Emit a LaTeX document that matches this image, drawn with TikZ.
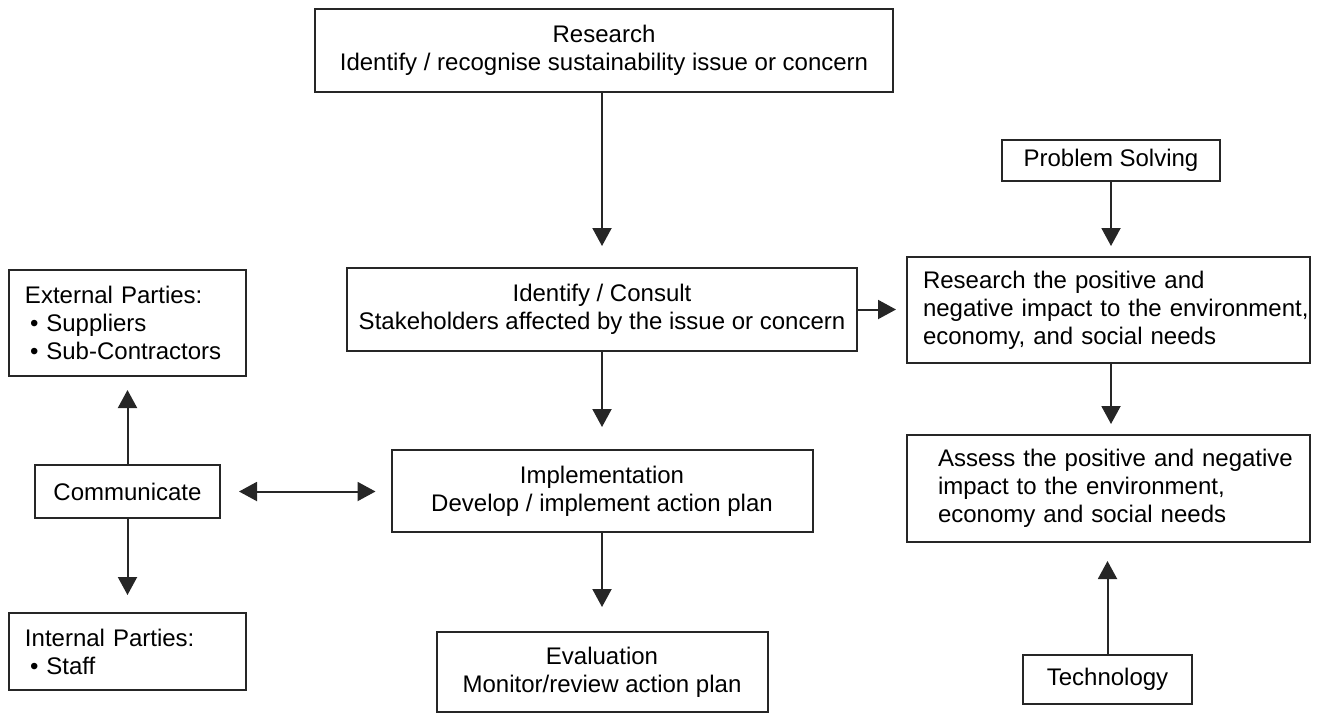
\documentclass[tikz,border=0pt]{standalone}
\usepackage{fontspec}
\setmainfont{Liberation Sans}
\usetikzlibrary{arrows.meta}
\begin{document}
\begin{tikzpicture}[x=0.5pt,y=-0.5pt,
  box/.style={draw=black!85,line width=1pt,rectangle,inner sep=0pt,
    font=\fontsize{12}{14}\selectfont,align=center},
  lbox/.style={box,align=left},
  arr/.style={draw=black!85,line width=1pt,-{Triangle[width=9.5pt,length=9pt]}},
  darr/.style={draw=black!85,line width=1pt,{Triangle[width=9.5pt,length=9pt]}-{Triangle[width=9.5pt,length=9pt]}}]
\useasboundingbox (0,0) rectangle (1320,713);
% nodes
\node[box,minimum width=289pt,minimum height=41.5pt] (res) at (604,50.5)
  {Research\\Identify / recognise sustainability issue or concern};
\node[box,minimum width=255pt,minimum height=41.5pt] (idc) at (602,309.5)
  {Identify / Consult\\Stakeholders affected by the issue or concern};
\node[box,minimum width=210.5pt,minimum height=41pt] (imp) at (602,491)
  {Implementation\\Develop / implement action plan};
\node[box,minimum width=165.5pt,minimum height=40pt] (eva) at (602,672)
  {Evaluation\\Monitor/review action plan};
\node[lbox,text width=102.5pt,inner xsep=8pt,minimum height=53pt] (ext) at (127.5,323)
  {External Parties:\\\hspace*{2.5pt}\textbullet\ Suppliers\\\hspace*{2.5pt}\textbullet\ Sub-Contractors};
\node[box,minimum width=92.5pt,minimum height=26.5pt] (com) at (127.5,491.5) {Communicate};
\node[lbox,text width=102.5pt,inner xsep=8pt,minimum height=38.5pt] (int) at (127.5,651.5)
  {Internal Parties:\\\hspace*{2.5pt}\textbullet\ Staff};
\node[box,minimum width=109pt,minimum height=20.5pt] (ps) at (1111,160.5) {Problem Solving};
\node[lbox,text width=185.5pt,inner xsep=8pt,minimum height=53pt] (rim) at (1108.5,310)
  {Research the positive and\\\mbox{negative impact to the environment,}\\economy, and social needs};
\node[lbox,text width=170.5pt,inner xsep=15.5pt,minimum height=53.5pt] (ass) at (1108.5,488.5)
  {\mbox{Assess the positive and negative}\\impact to the environment,\\economy and social needs};
\node[box,minimum width=84.5pt,minimum height=24.5pt] (tec) at (1107.5,679.5) {Technology};
% connectors
\draw[arr,shorten >=10.5pt] (idc.north |- res.south) -- (idc.north);
\draw[arr,shorten >=11pt] (idc) -- (imp);
\draw[arr,shorten >=12pt] (imp) -- (eva);
\draw[arr,shorten >=5pt] (idc.east) -- (idc.east -| rim.west);
\draw[darr,shorten <=9pt,shorten >=7.5pt] (com) -- (com -| imp.west);
\draw[arr,shorten >=6.5pt] (com.north) -- (com.north |- ext.south);
\draw[arr,shorten >=8.5pt] (com.south) -- (com.south |- int.north);
\draw[arr,shorten >=5pt] (ps) -- (ps.south |- rim.north);
\draw[arr,shorten >=5pt] (ps.south |- rim.south) -- (ps.south |- ass.north);
\draw[arr,shorten >=9pt] (tec) -- (tec.north |- ass.south);
\end{tikzpicture}
\end{document}
